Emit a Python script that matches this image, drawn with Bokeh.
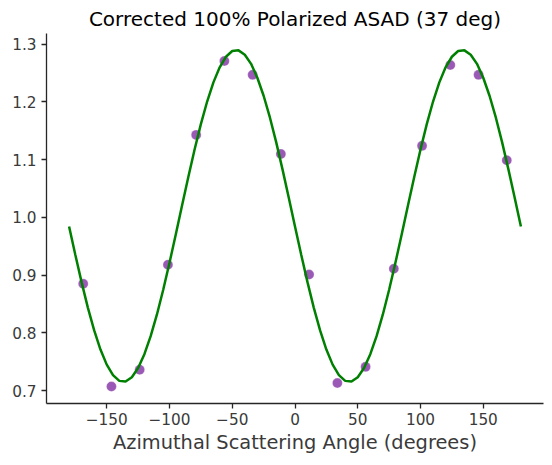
from bokeh.plotting import figure
from bokeh.models import Range1d, FixedTicker, PrintfTickFormatter, ColumnDataSource, CustomJSTickFormatter
from bokeh.embed import file_html
from bokeh.resources import INLINE

# Measured data points (azimuthal angle bins, corrected counts)
angles = [-168.75, -146.25, -123.75, -101.25, -78.75, -56.25, -33.75, -11.25,
          11.25, 33.75, 56.25, 78.75, 101.25, 123.75, 146.25, 168.75]
values = [0.885, 0.707, 0.736, 0.918, 1.143, 1.271, 1.247, 1.110,
          0.901, 0.713, 0.741, 0.911, 1.124, 1.264, 1.247, 1.099]

# Fitted modulation curve, every 5 degrees
fit_angles = list(range(-180, 181, 5))
fit_half = [0.9844, 0.9349, 0.8874, 0.8433, 0.8042, 0.7710, 0.7449, 0.7266,
            0.7167, 0.7155, 0.7230, 0.7389, 0.7630, 0.7942, 0.8318, 0.8746,
            0.9213, 0.9704, 1.0206, 1.0701, 1.1176, 1.1617, 1.2008, 1.2340,
            1.2601, 1.2784, 1.2883, 1.2895, 1.2820, 1.2661, 1.2420, 1.2108,
            1.1732, 1.1304, 1.0837, 1.0346]
fit_values = fit_half + fit_half + [0.9844]

x_ticks = [-150, -100, -50, 0, 50, 100, 150]
y_ticks = [0.7, 0.8, 0.9, 1.0, 1.1, 1.2, 1.3]

title = "Corrected 100% Polarized ASAD (37 deg)"
x_label = "Azimuthal Scattering Angle (degrees)"

FONT = "DejaVu Sans"
AX = "#262626"

p = figure(width=552, height=465, output_backend="svg", toolbar_location=None,
           x_range=Range1d(-198, 198), y_range=Range1d(0.6775, 1.3187),
           title=title)
p.min_border_left = 46
p.min_border_right = 9
p.min_border_top = 33
p.min_border_bottom = 62
p.outline_line_color = None
p.background_fill_color = "white"
p.border_fill_color = "white"
p.xgrid.visible = False
p.ygrid.visible = False

p.title.text_font = FONT
p.title.text_font_size = "20px"
p.title.text_font_style = "normal"
p.title.text_color = "black"
p.title.align = "center"
p.title.standoff = 5

for ax in (p.xaxis[0], p.yaxis[0]):
    ax.axis_line_color = AX
    ax.axis_line_width = 1.3
    ax.major_tick_line_color = AX
    ax.major_tick_line_width = 1.3
    ax.major_tick_out = 5
    ax.major_tick_in = 0
    ax.minor_tick_line_color = None
    ax.major_label_text_font = FONT
    ax.major_label_text_font_size = "15.3px"
    ax.major_label_text_color = "#3a3a3a"
    ax.axis_label_text_font = FONT
    ax.axis_label_text_font_style = "normal"
    ax.axis_label_text_color = "#3a3a3a"

p.xaxis.ticker = FixedTicker(ticks=x_ticks)
p.yaxis.ticker = FixedTicker(ticks=y_ticks)
p.yaxis.formatter = PrintfTickFormatter(format="%.1f")
p.xaxis.formatter = CustomJSTickFormatter(
    code="return tick < 0 ? '\\u2212' + Math.abs(tick).toString() : tick.toString();")
p.xaxis.major_label_standoff = 4
p.yaxis.major_label_standoff = 5
p.xaxis.axis_label = x_label
p.xaxis.axis_label_text_font_size = "19.4px"
p.xaxis.axis_label_standoff = 3

pts = ColumnDataSource(dict(x=angles, y=values))
fit = ColumnDataSource(dict(x=fit_angles, y=fit_values))
p.scatter("x", "y", source=pts, size=10, fill_color="#9b59b6", line_color="white",
          line_width=0.5, line_alpha=0.6)
p.line("x", "y", source=fit, line_color="green", line_width=2.5)

open("out.html", "w").write(file_html(p, INLINE))
